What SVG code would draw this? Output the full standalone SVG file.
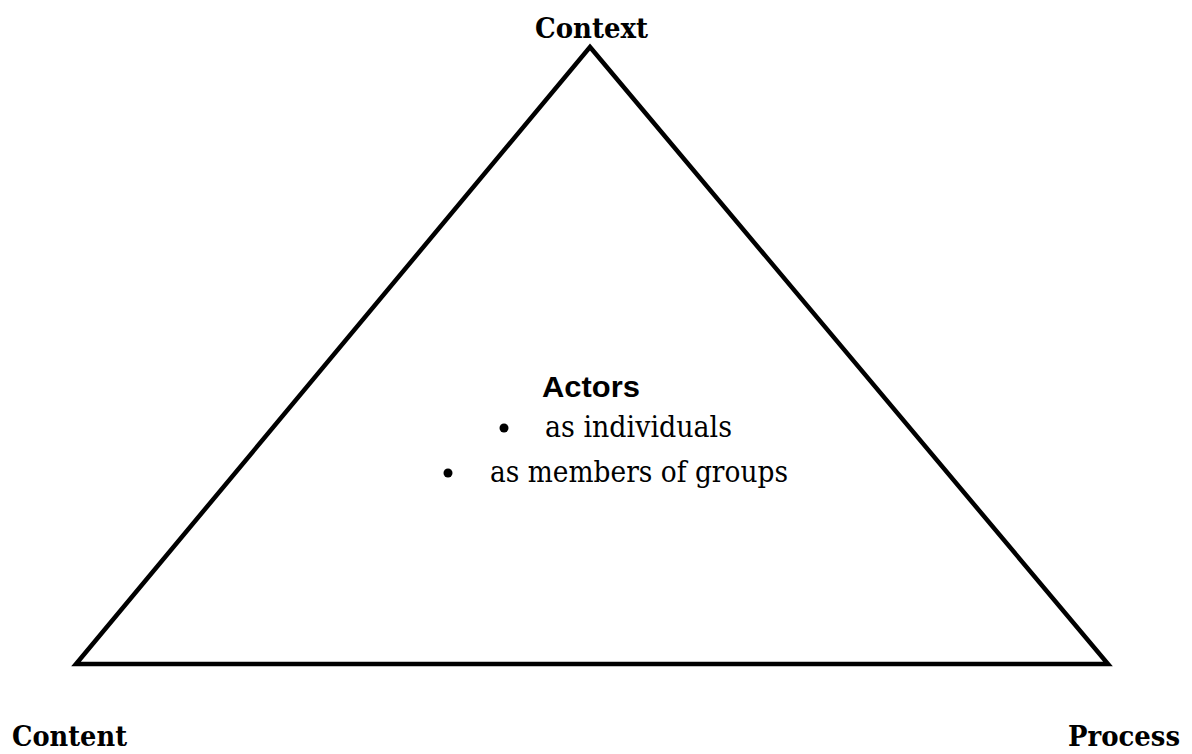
<svg xmlns="http://www.w3.org/2000/svg" width="1192" height="754" viewBox="0 0 1192 754">
  <style>
    .corner { font-family: "DejaVu Serif", "Liberation Serif", serif; font-weight: bold; font-size: 28px; fill: #000; }
    .title { font-family: "Liberation Sans", Arial, sans-serif; font-weight: bold; font-size: 29px; fill: #000; }
    .item { font-family: "DejaVu Serif", "Liberation Serif", serif; font-size: 29px; fill: #000; }
    .edge { fill: none; stroke: #000; stroke-width: 4.5; stroke-linejoin: miter; }
  </style>
  <rect width="1192" height="754" fill="#fff"/>
  <g id="connectors">
    <polygon class="edge" points="590,47 1108,664 76,664"/>
  </g>
  <g id="context">
    <text class="corner" x="535" y="38" textLength="113" lengthAdjust="spacingAndGlyphs">Context</text>
  </g>
  <g id="content">
    <text class="corner" x="12" y="746" textLength="115" lengthAdjust="spacingAndGlyphs">Content</text>
  </g>
  <g id="process">
    <text class="corner" x="1068" y="746" textLength="112" lengthAdjust="spacingAndGlyphs">Process</text>
  </g>
  <g id="actors">
    <text class="title" x="542" y="397" textLength="98" lengthAdjust="spacingAndGlyphs">Actors</text>
    <circle cx="504" cy="428" r="4.5" fill="#000"/>
    <text class="item" x="545" y="437" textLength="187" lengthAdjust="spacingAndGlyphs">as individuals</text>
    <circle cx="448" cy="473" r="4.5" fill="#000"/>
    <text class="item" x="490" y="482" textLength="298" lengthAdjust="spacingAndGlyphs">as members of groups</text>
  </g>
</svg>
